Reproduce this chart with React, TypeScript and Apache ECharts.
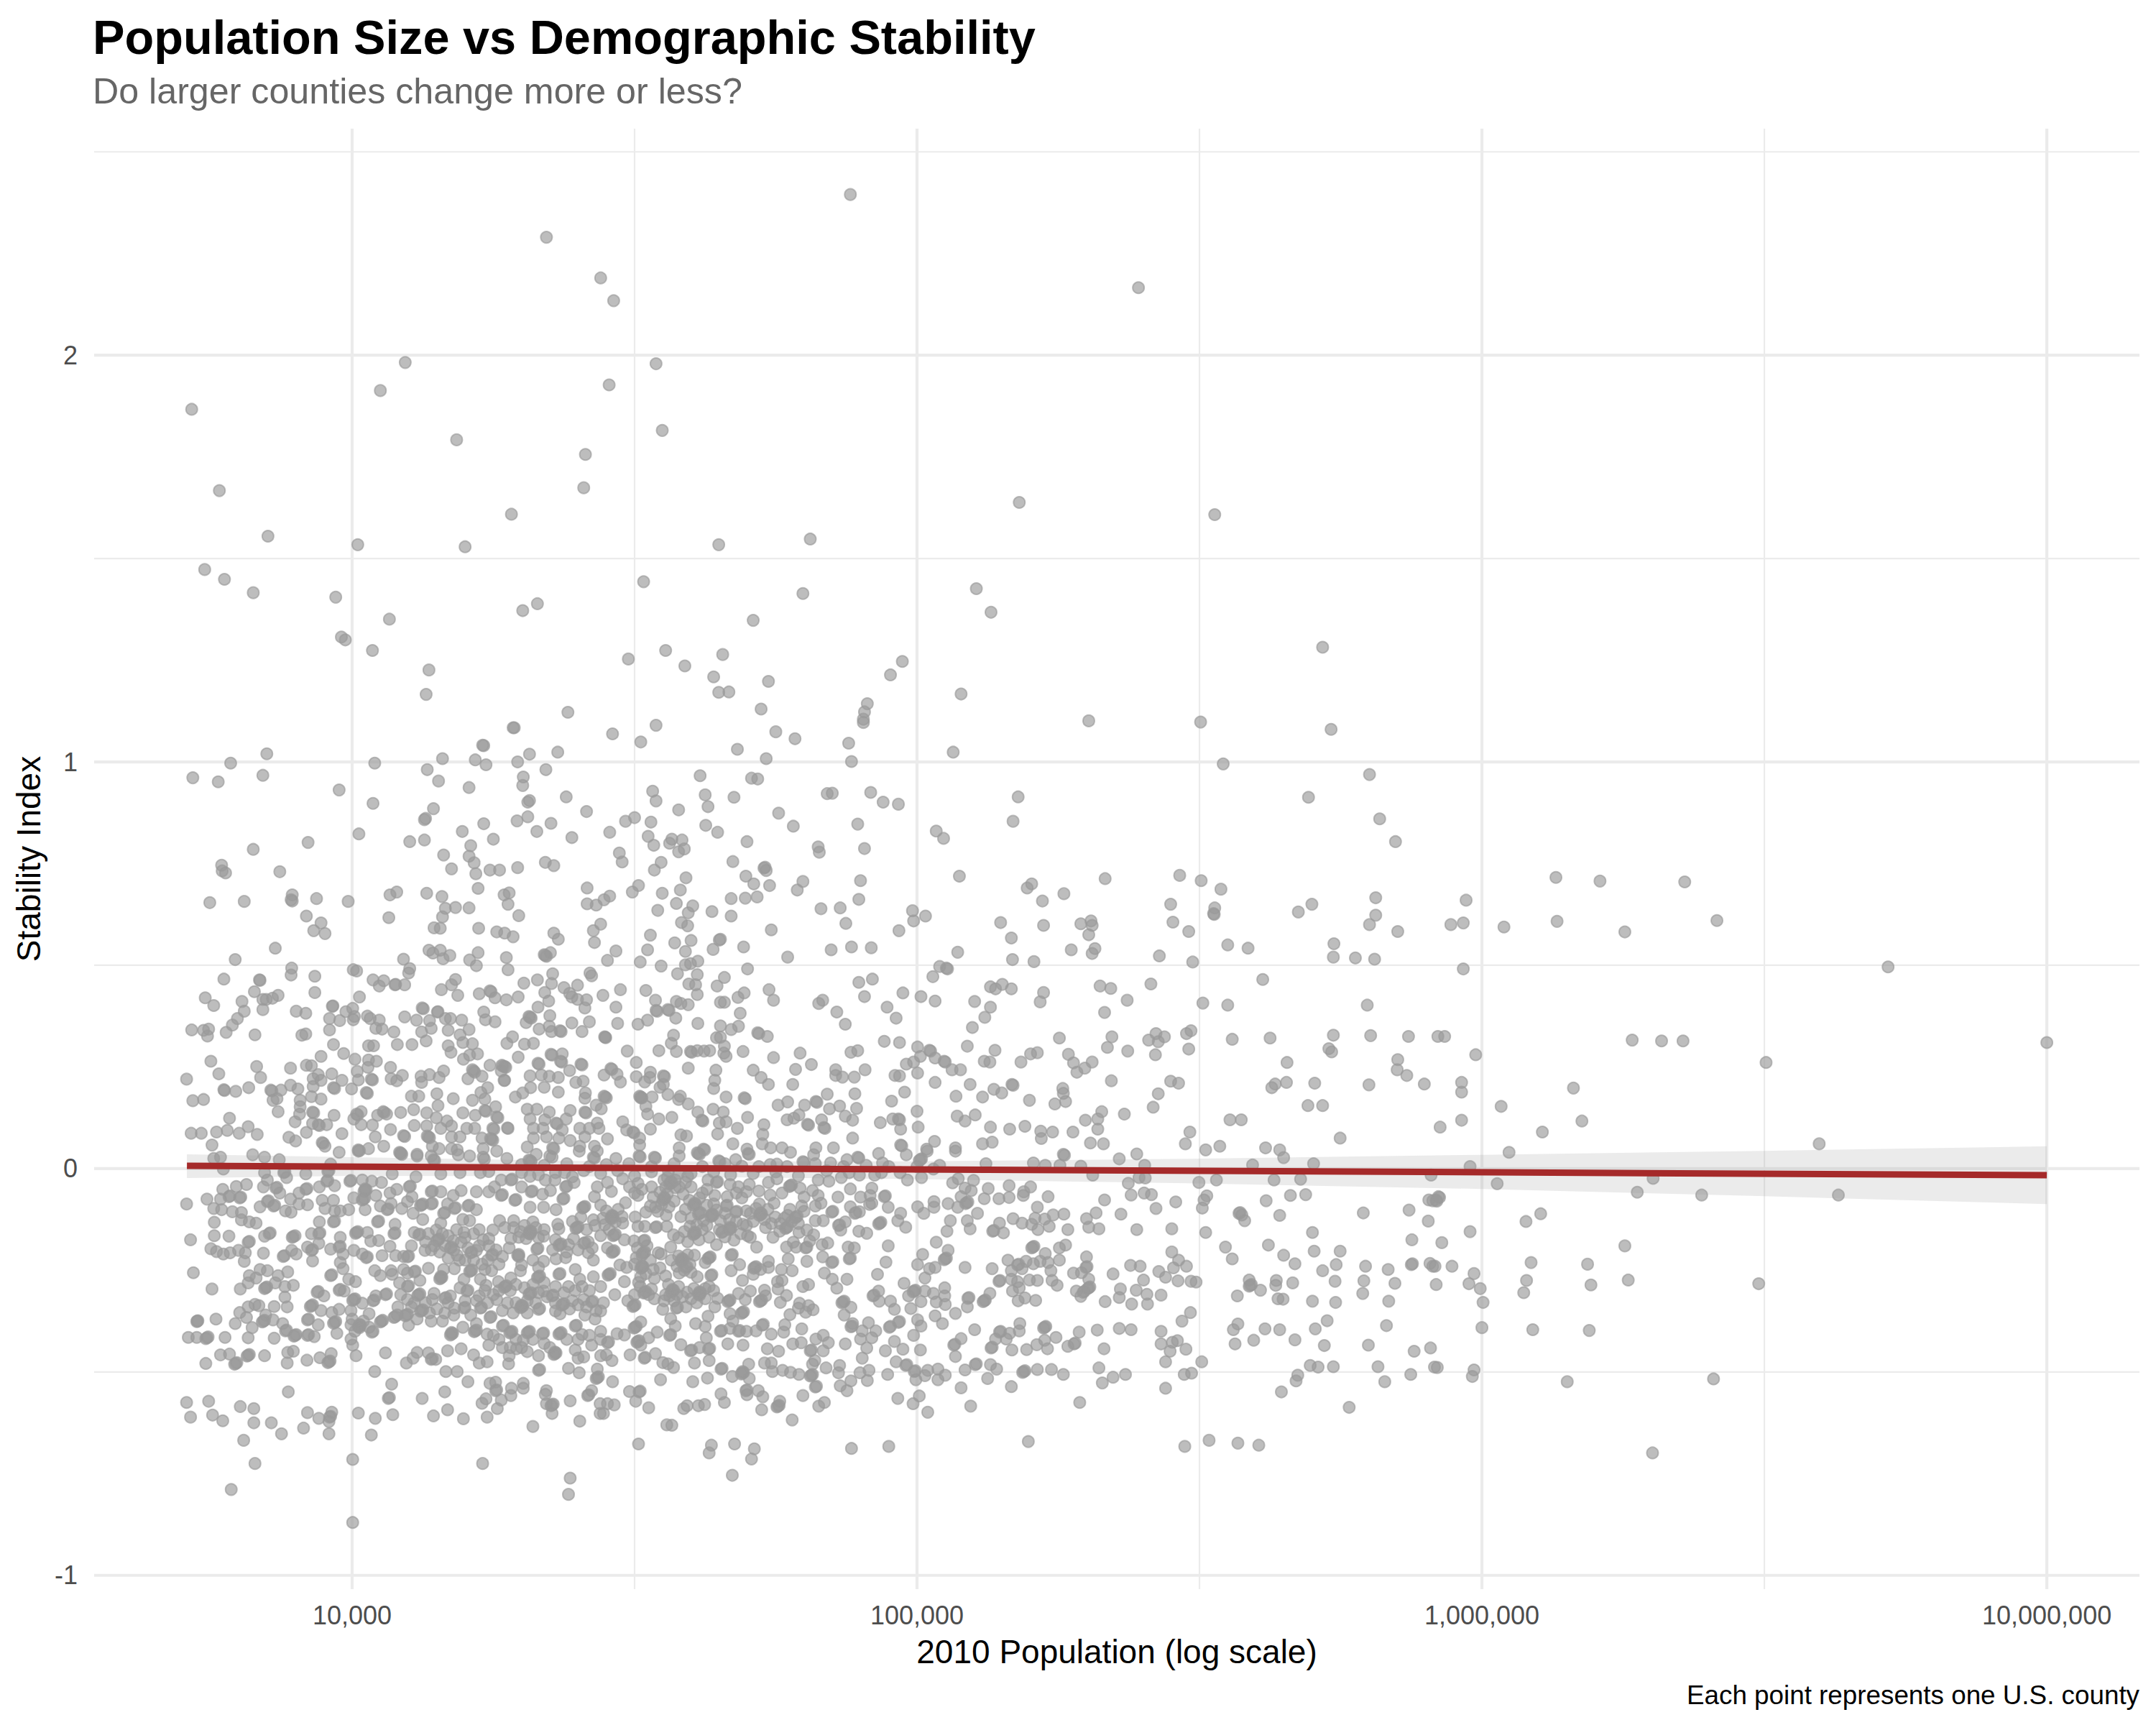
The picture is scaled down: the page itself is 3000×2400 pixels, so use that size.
import React, { useEffect, useRef } from "react";
import * as echarts from "echarts";

const TITLE = "Population Size vs Demographic Stability";
const SUBTITLE = "Do larger counties change more or less?";
const CAPTION = "Each point represents one U.S. county";
const X_NAME = "2010 Population (log scale)";
const Y_NAME = "Stability Index";

const xLabelValues = [10000, 100000, 1000000, 10000000];
const yLabelValues = [-1, 0, 1, 2];
const xMajorGrid = [10000, 100000, 1000000, 10000000];
const xMinorGrid = [31623, 316228, 3162278];
const yMajorGrid = [-1, 0, 1, 2];
const yMinorGrid = [-0.5, 0.5, 1.5, 2.5];

const trendPopulation = [5100, 10000000];
const trendIndex = [0.007, -0.016];
const ribbonPopulation = [5100, 10000, 30000, 100000, 300000, 1000000, 3000000, 10000000];
const ribbonUpper = [0.035, 0.028, 0.017, 0.018, 0.024, 0.034, 0.043, 0.055];
const ribbonLower = [-0.023, -0.018, -0.019, -0.026, -0.036, -0.05, -0.067, -0.087];

// each pair: log10(2010 population), stability index
const highOutliers: number[][] = [
[4.344,2.29],[4.44,2.19],[4.463,2.134],[4.094,1.982],[4.538,1.979],[4.05,1.913],[4.455,1.927],[3.716,1.867],[4.549,1.815],[4.185,1.792],[4.413,1.756],[3.765,1.667],[4.41,1.674],[4.282,1.609],[3.851,1.555],[4.01,1.534],[4.2,1.529],[4.649,1.534],[3.739,1.473],[3.774,1.449],
[4.882,2.395],[5.392,2.166],[5.181,1.638],[5.527,1.608],[4.811,1.548],[4.798,1.414],[4.71,1.348],[5.105,1.426],[5.131,1.368],[4.656,1.264],[4.974,1.247],[4.953,1.214],[4.737,1.198],[4.649,1.171],[5.718,1.282],[5.078,1.167],[4.912,1.143],[4.907,1.123],[4.905,1.105],[4.724,1.13],
[3.825,1.416],[3.971,1.405],[3.981,1.307],[3.988,1.3],[4.036,1.274],[4.066,1.351],[4.136,1.226],[4.131,1.166],[4.302,1.372],[4.328,1.389],[4.516,1.443],[4.489,1.253],[4.555,1.274],[4.589,1.236],[4.64,1.209],[4.667,1.172],[4.231,1.041],[4.285,1.084],[4.382,1.122],
];

const leftUpper: number[][] = [
[3.718,0.961],[3.763,0.951],[3.785,0.997],[3.849,1.02],[3.842,0.967],[3.977,0.931],[4.04,0.997],[4.037,0.898],[4.012,0.823],[3.922,0.802],[3.825,0.785],[3.769,0.746],[3.77,0.732],[3.776,0.727],[3.872,0.73],[3.748,0.654],[3.809,0.657],[3.894,0.673],[3.892,0.661],[3.894,0.658],[3.937,0.664],[3.993,0.657],[3.919,0.621],[3.945,0.604],[3.932,0.585],[3.952,0.578],[3.864,0.542],[3.793,0.514],[3.893,0.493],[3.892,0.476],[3.934,0.473],[3.773,0.466],[3.836,0.464],[3.837,0.463],[3.827,0.435],[3.934,0.433],[3.74,0.42],[3.755,0.401],[3.805,0.411],[3.842,0.416],[3.848,0.416],[3.859,0.419],[3.869,0.426],[3.809,0.387],[3.842,0.391],[3.797,0.369],[3.788,0.353],[3.777,0.335],[3.716,0.341],[3.737,0.34],[3.746,0.343],[3.744,0.326],[3.828,0.329],[3.901,0.387],[3.918,0.382],[3.911,0.328],[3.918,0.331],[3.965,0.399],[3.966,0.4],[3.96,0.369],[3.96,0.341],[3.978,0.364],[3.989,0.386],[4.001,0.394],[4.002,0.366],[4.004,0.374],[4.013,0.422],[4.002,0.489],[4.008,0.486],[4.037,0.464],[4.048,0.449],[4.056,0.462],[4.076,0.452],[4.077,0.453],[4.093,0.452],[4.091,0.515],[4.102,0.492],[4.1,0.481],
[4.067,0.673],[4.079,0.68],[4.132,0.677],[4.159,0.669],[4.165,0.64],[4.183,0.642],[4.207,0.641],[4.16,0.619],[4.145,0.592],[4.156,0.591],[4.065,0.617],[4.224,0.591],[4.223,0.689],[4.219,0.725],[4.216,0.752],[4.207,0.768],[4.21,0.794],[4.195,0.829],[4.162,0.771],[4.176,0.737],[4.102,0.804],[4.128,0.808],[4.128,0.858],[4.13,0.861],[4.144,0.885],[4.233,0.848],[4.25,0.81],[4.244,0.734],[4.261,0.734],[4.207,0.937],[4.153,0.953],[4.133,0.981],[4.16,1.008],[4.218,1.005],[4.237,0.993],[4.233,1.04],[4.256,0.582],[4.223,0.531],[4.208,0.513],[4.22,0.499],[4.136,0.537],[4.143,0.53],[4.156,0.537],[4.161,0.516],[4.173,0.524],[4.158,0.44],[4.176,0.452],[4.183,0.465],[4.187,0.426],[4.225,0.43],[4.244,0.437],[4.246,0.435],[4.253,0.42],
];

const leftMiddle: number[][] = [
[4.027,0.375],[4.032,0.369],[4.048,0.365],[4.042,0.345],[4.053,0.343],[4.074,0.336],[4.093,0.373],[4.114,0.365],[4.124,0.395],[4.126,0.393],[4.151,0.385],[4.152,0.386],[4.137,0.364],[4.14,0.345],[4.123,0.336],[4.17,0.34],[4.165,0.369],[4.174,0.369],[4.194,0.365],[4.207,0.342],[4.233,0.385],[4.236,0.366],[4.253,0.361],[4.191,0.329],[4.196,0.31],[4.213,0.307],[4.17,0.302],[4.175,0.286],[4.106,0.305],[4.08,0.305],[4.131,0.314],[4.029,0.302],[4.038,0.302],[3.967,0.305],[3.985,0.283],[4.005,0.269],[3.945,0.276],[4.029,0.267],[4.043,0.264],[4.028,0.249],[4.068,0.249],[4.009,0.239],[4.089,0.229],[4.069,0.221],[4.079,0.216],[4.122,0.227],[4.137,0.231],[4.162,0.24],[4.154,0.224],[4.123,0.212],[4.197,0.269],[4.208,0.279],[4.222,0.282],[4.244,0.254],[4.265,0.254],[4.267,0.252],[4.264,0.24],[4.269,0.217],[4.215,0.24],[4.217,0.237],[4.213,0.243],[4.205,0.221],[4.23,0.227],[4.24,0.199],[4.228,0.187],[4.235,0.171],[4.213,0.168],[4.179,0.172],[4.15,0.184],[4.152,0.155],[4.105,0.178],[4.118,0.178],[4.109,0.145],[4.086,0.138],[4.011,0.218],[4.034,0.22],[4.036,0.218],[3.964,0.233],[3.931,0.221],[3.94,0.231],[3.945,0.217],[3.982,0.217],[3.967,0.199],[3.969,0.197],[3.999,0.196],[4.025,0.187],[4.027,0.185],[3.931,0.202],[3.928,0.177],[3.945,0.171],[3.908,0.168],[3.904,0.196],[3.891,0.205],[3.874,0.193],[3.856,0.193],[3.858,0.191],[3.867,0.172],[3.86,0.168],[3.869,0.14],[3.838,0.224],[3.831,0.251],[3.817,0.199],[3.794,0.19],[3.773,0.194],[3.774,0.192],[3.764,0.233],[3.75,0.264],[3.707,0.22],[3.718,0.167],[3.737,0.17],[3.783,0.124],[3.715,0.087],[3.733,0.087],[3.76,0.09],[3.779,0.094],[3.8,0.087],[3.816,0.103],[3.832,0.084],[3.752,0.058],[3.824,0.034],[3.755,0.025],[3.767,0.028],[3.845,0.028],[3.871,0.022],[3.891,0.247],[3.919,0.254],[3.928,0.253],[3.908,0.152],[3.907,0.134],[3.899,0.115],[3.93,0.139],[3.932,0.137],[3.968,0.131],[3.93,0.111],[3.94,0.108],[3.942,0.106],[3.955,0.108],[3.919,0.089],[3.982,0.086],[3.888,0.077],[3.9,0.068],[3.947,0.064],[3.949,0.062],[3.952,0.055],[3.977,0.04],[4.008,0.134],[4.01,0.132],[4.016,0.14],[4.003,0.122],[4.016,0.108],[4.036,0.107],[4.045,0.131],[4.055,0.14],[4.057,0.138],[4.061,0.134],[4.041,0.078],[4.068,0.096],[4.056,0.055],[4.029,0.049],[4.011,0.046],[4.013,0.044],[4.091,0.081],[4.093,0.079],[4.084,0.04],[4.086,0.038],[4.115,0.035],[4.11,0.106],[4.132,0.137],[4.149,0.125],[4.132,0.105],[4.135,0.078],[4.137,0.076],[4.133,0.08],[4.157,0.099],[4.168,0.117],[4.176,0.105],[4.176,0.078],[4.191,0.078],[4.196,0.137],[4.218,0.131],[4.203,0.099],[4.217,0.099],[4.235,0.143],[4.237,0.141],[4.254,0.152],[4.256,0.127],[4.258,0.125],[4.249,0.099],[4.251,0.097],[4.275,0.1],[4.23,0.075],[4.247,0.072],[4.249,0.07],[4.245,0.074],[4.232,0.049],[4.256,0.043],[4.176,0.049],[4.186,0.046],[4.142,0.055],[4.154,0.049],[4.14,0.031],[4.208,0.031],[4.232,0.028],[4.274,0.025],
[3.962,0.011],[4.011,0.043],[4.086,0.037],[4.088,0.035],[4.115,0.031],[4.144,0.022],[4.146,0.02],[4.188,0.034],[4.234,0.023],[4.315,0.019],[4.317,0.017],[4.313,0.021],[4.354,0.028],[4.402,0.043],[4.427,0.028],[4.429,0.026],[4.326,0.035],[4.35,0.031],[4.434,0.043],
];

const centerUpper: number[][] = [
[4.287,1.084],[4.461,1.069],[4.511,1.049],[4.538,1.09],[4.75,1.074],[4.784,1.057],[4.905,1.097],[4.879,1.046],[4.682,1.031],[4.733,1.008],[4.884,1.001],[5.064,1.024],[4.314,1.019],[4.364,1.024],[4.293,1],[4.343,0.981],[4.303,0.963],[4.302,0.942],[4.379,0.914],[4.314,0.905],[4.311,0.901],[4.616,0.966],[4.707,0.96],[4.718,0.958],[4.532,0.928],[4.538,0.904],[4.625,0.919],[4.63,0.89],[4.676,0.913],[4.841,0.922],[4.85,0.923],[4.918,0.925],[4.94,0.901],[4.967,0.896],[4.755,0.874],[4.578,0.882],[4.415,0.878],[4.484,0.854],[4.5,0.863],[4.529,0.852],[4.626,0.844],[4.647,0.827],[4.781,0.842],[4.895,0.847],[4.292,0.855],[4.311,0.865],[4.352,0.849],[4.327,0.829],[4.389,0.814],[4.456,0.827],[4.524,0.817],[4.534,0.795],[4.566,0.81],[4.562,0.8],[4.584,0.808],[4.578,0.779],[4.588,0.786],[4.699,0.804],[4.825,0.791],[4.827,0.778],[4.907,0.787],[5.034,0.83],[5.047,0.812],[4.473,0.776],[4.478,0.754],[4.342,0.753],[4.357,0.745],[4.293,0.74],[4.547,0.753],[4.535,0.734],[4.674,0.755],[4.729,0.739],[4.731,0.741],[4.733,0.733],[4.697,0.719],[4.711,0.7],[4.739,0.696],[4.798,0.706],[4.788,0.685],[4.9,0.708],[5.075,0.719],[4.591,0.715],[4.581,0.685],[4.549,0.677],[4.507,0.696],[4.496,0.68],[4.416,0.69],[4.456,0.67],[4.446,0.661],[4.432,0.648],[4.416,0.651],[4.671,0.664],[4.696,0.665],[4.717,0.668],[4.897,0.662],[4.574,0.652],[4.603,0.646],[4.595,0.629],[4.541,0.635],[4.637,0.632],[4.671,0.621],[4.83,0.639],[4.864,0.641],[4.992,0.634],[5.015,0.621],[4.994,0.609],[4.874,0.603],[4.968,0.585],[5.148,0.605],[4.583,0.605],[4.594,0.597],[4.295,0.622],[4.276,0.65],[4.278,0.678],[4.269,0.673],[4.44,0.601],[4.427,0.585],[4.357,0.579],[4.365,0.564],[4.429,0.556],[4.528,0.574],[4.571,0.555],[4.6,0.561],[4.65,0.562],[4.652,0.564],[4.693,0.545],[4.742,0.587],[4.523,0.538],[4.639,0.539],[4.59,0.534],[4.467,0.535],[4.452,0.512],[4.51,0.508],[4.547,0.498],[4.771,0.52],[4.848,0.538],[4.884,0.545],[4.919,0.543],[5.072,0.532],[4.342,0.524],[4.344,0.522],[4.34,0.526],[4.351,0.531],[4.273,0.519],[4.276,0.489],[4.285,0.57],[4.27,0.579],[4.59,0.501],[4.599,0.504],[4.612,0.51],[4.7,0.491],[4.576,0.479],[4.611,0.477],[4.659,0.47],[4.646,0.449],[5.04,0.497],[5.052,0.493],[5.054,0.491],[5.028,0.472],[4.897,0.458],[4.921,0.466],[4.355,0.479],[4.421,0.481],[4.424,0.474],[4.304,0.456],[4.328,0.464],[4.353,0.455],[4.375,0.445],[4.399,0.451],[4.475,0.44],[4.341,0.433],[4.52,0.438],[4.596,0.454],[4.608,0.452],[4.385,0.431],[4.389,0.422],[4.415,0.415],[4.444,0.426],[4.294,0.422],[4.273,0.415],[4.348,0.412],[4.399,0.416],[4.611,0.428],[4.694,0.432],[4.683,0.421],[4.738,0.44],[4.746,0.414],[4.907,0.423],[4.975,0.432],[5.007,0.423],[5.032,0.412],[5.102,0.411],[5.13,0.447],[5.139,0.442],[5.151,0.453],[4.833,0.414],[4.826,0.406],[4.537,0.414],[4.574,0.411],[4.582,0.406],[4.595,0.403],[4.652,0.409],[4.659,0.409],[4.329,0.397],[4.412,0.395],[4.467,0.397],[4.947,0.397],[5.13,0.397],
[4.315,0.372],[4.317,0.37],[4.313,0.374],[4.308,0.359],[4.35,0.376],[4.538,0.389],[4.54,0.387],[4.559,0.391],[4.561,0.389],[4.573,0.37],[4.687,0.382],[4.858,0.385],[4.963,0.37],[5.12,0.372],[4.873,0.355],[4.389,0.358],[4.42,0.361],[4.47,0.357],[4.506,0.355],[4.523,0.365],[4.612,0.357],[4.652,0.351],[4.684,0.35],[4.671,0.342],[5.098,0.347],[4.331,0.343],[4.349,0.35],[4.353,0.337],[4.368,0.339],[4.37,0.337],[4.407,0.337],[4.718,0.334],[4.72,0.332],[4.735,0.325],[4.448,0.323],[4.449,0.322],[4.447,0.324],[4.569,0.328],[4.645,0.322],[4.652,0.323],[4.284,0.324],[4.274,0.308],[4.305,0.306],[4.321,0.308],[4.565,0.308],[4.942,0.313],[4.969,0.31],[5.089,0.301],[5.001,0.299],[4.659,0.301],[4.487,0.289],[4.543,0.29],[4.574,0.288],[4.599,0.288],[4.601,0.286],[4.611,0.29],[4.623,0.289],[4.633,0.29],[4.658,0.284],[4.662,0.276],[4.692,0.288],[4.793,0.284],[4.883,0.286],[4.895,0.29],[5.022,0.291],[5.024,0.289],[5.138,0.291],[5.006,0.276],[5.032,0.272],[5.048,0.264],[5.05,0.262],[5.119,0.264],[5.129,0.262],[4.981,0.257],[4.994,0.262],[4.294,0.274],[4.329,0.259],[4.331,0.257],[4.352,0.281],[4.354,0.279],[4.372,0.282],[4.369,0.264],[4.371,0.262],[4.405,0.257],[4.407,0.255],[4.503,0.261],[4.746,0.273],[4.27,0.251],[4.272,0.249],[4.813,0.256],[4.595,0.247],[4.644,0.242],[4.71,0.242],[4.785,0.244],[4.856,0.243],[4.908,0.243],[5.062,0.243],[5.077,0.243],[5.001,0.235],[4.458,0.246],[4.46,0.244],[4.856,0.229],[4.868,0.225],[4.889,0.225],[4.961,0.229],[4.969,0.228],[4.724,0.224],[4.446,0.23],[4.469,0.232],[4.503,0.226],[4.528,0.237],[4.527,0.224],[4.551,0.228],[4.553,0.226],[4.642,0.217],[4.315,0.228],[4.335,0.23],[4.349,0.227],[4.365,0.224],[4.385,0.241],[4.27,0.217],[4.475,0.213],[4.737,0.207],[4.78,0.207],[5.032,0.212],[5.094,0.207],[4.396,0.212],[4.409,0.215],[4.34,0.2],[4.316,0.199],[4.64,0.197],[4.518,0.213],[4.551,0.207],[4.545,0.2],[5.136,0.195],[4.978,0.188],[5.15,0.186],[5.116,0.176],[5.069,0.178],[4.89,0.184],[4.841,0.183],[4.365,0.188],[4.413,0.186],[4.302,0.186],[4.289,0.176],[4.448,0.176],[4.45,0.174],[4.446,0.178],[4.412,0.173],[4.511,0.176],[4.513,0.174],[4.509,0.178],[4.511,0.174],[4.531,0.176],[4.559,0.182],[4.581,0.178],[4.578,0.17],[4.595,0.159],[4.662,0.176],[4.694,0.174],[4.696,0.172],[4.771,0.164],[4.754,0.156],[4.801,0.156],[4.821,0.165],[4.823,0.163],[4.845,0.147],[4.863,0.154],[4.893,0.148],[4.955,0.166],[5,0.141],[5.071,0.129],[5.085,0.117],[5.103,0.132],[4.432,0.156],[4.441,0.147],[4.52,0.153],[4.523,0.134],[4.612,0.139],[4.639,0.146],[4.657,0.139],[4.619,0.119],[4.621,0.117],[4.65,0.112],[4.662,0.115],[4.7,0.126],[4.566,0.126],[4.543,0.122],[4.791,0.132],[4.77,0.12],[4.782,0.124],[4.831,0.12],[4.873,0.129],[4.886,0.119],[4.935,0.113],[4.957,0.122],[4.967,0.122],[4.969,0.12],[4.971,0.097],[5.002,0.102],[5.13,0.102],[4.835,0.101],[4.837,0.099],[4.806,0.109],[4.808,0.107],[4.729,0.108],[4.727,0.084],[4.682,0.099],[4.647,0.085],[4.528,0.097],[4.479,0.115],[4.486,0.095],[4.497,0.09],[4.499,0.088],[4.509,0.075],[4.582,0.083],[4.592,0.08],[4.886,0.075],[4.276,0.099],[4.31,0.146],[4.327,0.146],[4.349,0.139],[4.386,0.143],[4.412,0.139],[4.414,0.137],[4.379,0.122],[4.315,0.122],[4.341,0.12],[4.361,0.112],[4.363,0.11],[4.403,0.099],[4.434,0.112],[4.437,0.099],[4.321,0.099],[4.338,0.099],[4.372,0.095],[4.42,0.099],[4.321,0.075],[4.366,0.075],[4.344,0.078],[4.386,0.069],[4.412,0.078],[4.452,0.073],[4.403,0.055],[4.429,0.055],[4.355,0.051],[4.357,0.049],[4.31,0.053],[4.509,0.058],[4.579,0.051],[4.622,0.048],[4.624,0.046],[4.674,0.061],[4.699,0.048],[4.726,0.061],[4.741,0.051],[4.761,0.051],[4.821,0.051],[4.852,0.051],[4.971,0.058],[4.973,0.056],[5.031,0.067],[5.017,0.048],[5.068,0.051],[5.116,0.061],[5.133,0.065],
];

const rightUpper: number[][] = [
[5.304,1.101],[5.502,1.098],[5.733,1.08],[5.542,0.995],[5.801,0.969],[5.693,0.913],[5.179,0.914],[5.17,0.854],[5.819,0.86],[5.847,0.804],[5.333,0.713],[5.465,0.721],[5.503,0.708],[5.203,0.7],[5.195,0.69],[5.26,0.676],[5.538,0.687],[5.222,0.658],[5.449,0.65],[5.527,0.641],[5.525,0.627],[5.526,0.625],[5.699,0.65],[5.675,0.631],[5.812,0.666],[5.812,0.623],[5.801,0.6],[5.972,0.66],[5.945,0.6],[5.967,0.604],[6.039,0.594],[5.851,0.583],[5.29,0.602],[5.308,0.609],[5.31,0.598],[5.304,0.575],[5.224,0.598],[5.167,0.567],[5.453,0.606],[5.481,0.583],[5.273,0.538],[5.315,0.541],[5.31,0.529],[5.55,0.55],[5.586,0.542],[5.738,0.553],[5.169,0.514],[5.207,0.509],[5.429,0.523],[5.488,0.508],[5.737,0.52],[5.776,0.518],[5.81,0.515],[5.967,0.491],[5.612,0.465],[5.167,0.442],[5.224,0.433],[5.218,0.41],[5.324,0.449],[5.343,0.443],[5.414,0.454],[5.372,0.414],[5.506,0.407],[5.55,0.402],[5.797,0.402],[5.332,0.384],[5.252,0.321],[5.345,0.324],[5.337,0.298],[5.373,0.289],[5.41,0.316],[5.423,0.332],[5.427,0.312],[5.438,0.324],[5.477,0.332],[5.485,0.339],[5.481,0.294],[5.422,0.28],[5.558,0.318],[5.625,0.321],[5.737,0.328],[5.803,0.327],[5.87,0.325],[5.922,0.325],[5.934,0.325],[5.729,0.295],[5.734,0.287],[5.989,0.28],[5.655,0.261],[5.851,0.268],[5.85,0.243],[5.867,0.229],[5.898,0.208],[5.964,0.212],[5.964,0.188],[5.8,0.206],[5.704,0.21],[5.654,0.212],[5.634,0.208],[5.628,0.199],[5.692,0.155],[5.718,0.155],[6.034,0.153],[5.964,0.119],[5.926,0.102],[5.749,0.075],[5.554,0.12],[5.574,0.12],[5.483,0.09],[5.475,0.061],[5.536,0.055],[5.511,0.046],[5.617,0.051],[5.642,0.046],[5.418,0.151],[5.427,0.184],[5.449,0.215],[5.463,0.21],[5.367,0.134],[5.327,0.14],[5.32,0.122],[5.298,0.119],[5.32,0.097],[5.276,0.09],[5.24,0.09],[5.219,0.092],[5.22,0.074],[5.191,0.104],[5.164,0.097],[5.307,0.063],[5.33,0.061],[5.199,0.168],[5.244,0.159],[5.263,0.165],[5.258,0.197],[5.259,0.185],[5.344,0.216],[5.168,0.207],[5.17,0.205],[5.268,0.281],[5.277,0.26],[5.297,0.247],[5.31,0.262],[5.283,0.237],[5.201,0.282],[5.213,0.285],[5.184,0.262],
[6.131,0.716],[6.209,0.707],[6.359,0.705],[6.133,0.608],[6.253,0.582],[6.416,0.61],[6.719,0.496],[6.266,0.316],[6.318,0.314],[6.356,0.314],[6.503,0.261],[6.162,0.198],[6.177,0.117],[6.107,0.09],[6.048,0.04],[6.597,0.061],[7,0.31],
];

const rightLower: number[][] = [
[5.979,0.005],[6.303,-0.024],[6.027,-0.037],[6.275,-0.058],[6.389,-0.065],[6.631,-0.065],[5.925,-0.071],[5.92,-0.08],[6.078,-0.13],[6.104,-0.111],[5.979,-0.155],[6.253,-0.19],[5.929,-0.182],[5.947,-0.24],[5.917,-0.24],[6.087,-0.231],[6.187,-0.235],[5.986,-0.258],[5.977,-0.283],[5.997,-0.295],[6.079,-0.275],[6.074,-0.305],[6.002,-0.329],[6.193,-0.286],[6.259,-0.274],[6.49,-0.283],[6,-0.391],[6.09,-0.396],[6.19,-0.398],[5.921,-0.489],[5.986,-0.495],[5.983,-0.511],[6.151,-0.524],[6.41,-0.517],[6.302,-0.699],
[5.259,0.035],[5.261,0.033],[5.358,0.024],[5.389,0.036],[5.649,0.027],[5.206,0.014],[5.227,0.008],[5.253,0.008],[5.29,0.006],[5.403,0.008],[5.594,0.009],[5.702,0.012],[5.311,-0.016],[5.91,-0.016],[5.393,-0.022],[5.404,-0.023],[5.374,-0.036],[5.499,-0.034],[5.53,-0.028],[5.632,-0.028],[5.679,-0.026],[5.163,-0.042],[5.201,-0.045],[5.189,-0.057],[5.188,-0.066],[5.163,-0.071],[5.232,-0.069],[5.379,-0.065],[5.402,-0.06],[5.415,-0.064],[5.513,-0.067],[5.332,-0.077],[5.458,-0.082],[5.508,-0.077],[5.505,-0.097],[5.661,-0.066],[5.688,-0.064],[5.618,-0.079],[5.923,-0.069],[5.906,-0.077],[5.913,-0.079],[5.919,-0.077],[5.213,-0.095],[5.423,-0.098],[5.79,-0.109],[5.871,-0.102],[5.57,-0.11],[5.572,-0.108],[5.575,-0.114],[5.58,-0.128],[5.642,-0.115],[5.26,-0.112],[5.241,-0.114],[5.209,-0.122],[5.226,-0.124],[5.17,-0.123],[5.186,-0.134],[5.203,-0.137],[5.234,-0.142],[5.214,-0.15],[5.267,-0.15],[5.3,-0.123],[5.317,-0.109],[5.361,-0.112],[5.304,-0.144],[5.322,-0.148],[5.389,-0.15],[5.451,-0.148],[5.511,-0.157],[5.905,-0.129],[5.7,-0.157],[5.876,-0.175],[5.546,-0.193],[5.622,-0.188],[5.558,-0.222],[5.649,-0.213],[5.703,-0.203],[5.749,-0.203],[5.669,-0.234],[5.742,-0.236],[5.794,-0.24],[5.834,-0.248],[5.718,-0.251],[5.875,-0.236],[5.877,-0.234],[5.908,-0.233],[5.913,-0.24],[5.74,-0.277],[5.791,-0.276],[5.846,-0.282],[5.919,-0.285],[5.665,-0.281],[5.588,-0.274],[5.59,-0.287],[5.592,-0.285],[5.588,-0.289],[5.608,-0.299],[5.636,-0.275],[5.635,-0.287],[5.567,-0.313],[5.639,-0.32],[5.648,-0.321],[5.7,-0.326],[5.741,-0.329],[5.789,-0.307],[5.835,-0.326],
[5.263,-0.188],[5.252,-0.195],[5.205,-0.193],[5.207,-0.191],[5.203,-0.195],[5.227,-0.209],[5.3,-0.217],[5.252,-0.225],[5.218,-0.228],[5.232,-0.231],[5.193,-0.228],[5.178,-0.237],[5.18,-0.235],[5.161,-0.225],[5.167,-0.251],[5.186,-0.246],[5.206,-0.234],[5.237,-0.251],[5.299,-0.243],[5.301,-0.241],[5.277,-0.257],[5.291,-0.256],[5.347,-0.259],[5.378,-0.238],[5.395,-0.24],[5.428,-0.253],[5.451,-0.205],[5.463,-0.225],[5.454,-0.244],[5.477,-0.24],[5.44,-0.267],[5.401,-0.274],[5.462,-0.276],[5.485,-0.277],[5.494,-0.279],[5.167,-0.272],[5.178,-0.278],[5.199,-0.274],[5.213,-0.275],[5.239,-0.275],[5.248,-0.287],[5.304,-0.272],[5.36,-0.296],[5.388,-0.299],[5.407,-0.309],[5.432,-0.311],[5.169,-0.301],[5.181,-0.293],[5.304,-0.293],[5.306,-0.291],[5.302,-0.295],[5.294,-0.304],[5.296,-0.302],[5.282,-0.301],[5.29,-0.314],[5.358,-0.317],[5.333,-0.327],[5.38,-0.333],[5.408,-0.333],[5.191,-0.318],[5.179,-0.325],[5.21,-0.324],[5.484,-0.354],[5.469,-0.375],[5.182,-0.381],[5.181,-0.399],[5.226,-0.39],[5.228,-0.388],[5.224,-0.392],[5.164,-0.405],[5.158,-0.419],[5.246,-0.415],[5.287,-0.402],[5.319,-0.397],[5.358,-0.393],[5.379,-0.396],[5.432,-0.4],[5.568,-0.382],[5.56,-0.396],[5.616,-0.394],[5.642,-0.396],[5.705,-0.394],[5.726,-0.374],[5.831,-0.386],[5.596,-0.422],[5.669,-0.421],[5.563,-0.431],[5.721,-0.435],[5.799,-0.434],[5.909,-0.441],[5.88,-0.449],[5.226,-0.422],[5.212,-0.433],[5.231,-0.443],[5.168,-0.446],[5.194,-0.445],[5.267,-0.437],[5.278,-0.431],[5.28,-0.429],[5.331,-0.443],[5.432,-0.431],[5.452,-0.427],[5.461,-0.423],[5.448,-0.449],[5.476,-0.444],[5.44,-0.475],[5.504,-0.475],[5.696,-0.484],[5.71,-0.488],[5.737,-0.487],[5.816,-0.487],[5.916,-0.488],[5.189,-0.499],[5.191,-0.497],[5.187,-0.501],[5.213,-0.494],[5.238,-0.494],[5.259,-0.506],[5.322,-0.49],[5.347,-0.513],[5.369,-0.506],[5.328,-0.527],[5.473,-0.506],[5.486,-0.503],[5.674,-0.508],[5.671,-0.522],[5.874,-0.506],[5.828,-0.524],[5.167,-0.536],[5.44,-0.54],[5.645,-0.549],[5.288,-0.575],[5.765,-0.587],[5.197,-0.671],[5.474,-0.683],[5.517,-0.668],[5.568,-0.675],[5.605,-0.68],
];

const centerLower: number[][] = [
[4.673,-0.754],[4.507,-0.677],[4.636,-0.68],[4.632,-0.699],[4.677,-0.677],[4.712,-0.689],[4.707,-0.714],[4.884,-0.688],[4.95,-0.683],[4.557,-0.63],[4.566,-0.631],[4.779,-0.618],[5.019,-0.599],[5.095,-0.584],[4.966,-0.565],[4.993,-0.578],[5.004,-0.559],[4.826,-0.584],[4.836,-0.575],[4.798,-0.558],[4.725,-0.593],[4.754,-0.584],[4.756,-0.582],[4.752,-0.586],[4.757,-0.572],[4.525,-0.588],[4.502,-0.572],[4.491,-0.548],[4.508,-0.549],[4.51,-0.547],[4.464,-0.581],[4.452,-0.578],[4.445,-0.602],[4.587,-0.59],[4.593,-0.583],[4.613,-0.583],[4.624,-0.58],[4.659,-0.575],[4.653,-0.554],[4.697,-0.546],[4.699,-0.544],[4.699,-0.556],[4.719,-0.546],[4.727,-0.561],[4.461,-0.524],[4.546,-0.519],[4.603,-0.524],[4.629,-0.515],[4.653,-0.493],[4.655,-0.491],[4.673,-0.511],[4.691,-0.503],[4.693,-0.501],[4.689,-0.505],[4.691,-0.499],[4.703,-0.516],[4.702,-0.481],[4.742,-0.478],[4.744,-0.499],[4.762,-0.496],[4.776,-0.501],[4.791,-0.506],[4.813,-0.508],[4.815,-0.506],[4.811,-0.51],[4.82,-0.537],[4.822,-0.535],[4.815,-0.481],[4.839,-0.49],[4.863,-0.484],[4.861,-0.502],[4.864,-0.534],[4.876,-0.546],[4.883,-0.522],[4.899,-0.502],[4.915,-0.496],[4.912,-0.521],[4.948,-0.506],[4.963,-0.475],[4.98,-0.484],[4.982,-0.482],[4.995,-0.499],[4.997,-0.497],[4.998,-0.519],[5.014,-0.509],[5.019,-0.496],[5.037,-0.493],[5.037,-0.519],[5.05,-0.508],[5.085,-0.495],[5.103,-0.482],[5.105,-0.48],[5.078,-0.539],[5.125,-0.516],[5.13,-0.482],[5.141,-0.493],[5.006,-0.446],[4.975,-0.444],[4.944,-0.448],[4.96,-0.425],[4.903,-0.466],[4.911,-0.441],[4.9,-0.419],[4.92,-0.416],[4.927,-0.399],[4.914,-0.379],[4.903,-0.399],[4.951,-0.39],[4.953,-0.388],[4.967,-0.378],[4.969,-0.376],[4.994,-0.41],[5.001,-0.372],[5.007,-0.387],[4.873,-0.431],[4.883,-0.389],[4.885,-0.387],[4.886,-0.381],[4.843,-0.428],[4.834,-0.41],[4.821,-0.419],[4.834,-0.448],[4.811,-0.448],[4.813,-0.446],[4.819,-0.472],[4.795,-0.428],[4.78,-0.431],[4.796,-0.394],[4.755,-0.449],[4.735,-0.443],[4.73,-0.478],[4.742,-0.407],[4.764,-0.402],[4.766,-0.384],[4.726,-0.385],[4.728,-0.383],[4.715,-0.399],[4.698,-0.4],[4.684,-0.4],[4.686,-0.398],[4.692,-0.434],[4.665,-0.431],[4.669,-0.393],[4.652,-0.4],[4.654,-0.398],[4.674,-0.375],[4.625,-0.388],[4.608,-0.381],[4.627,-0.416],[4.615,-0.44],[4.631,-0.444],[4.633,-0.442],[4.632,-0.472],[4.606,-0.478],[4.599,-0.448],[4.601,-0.446],[4.582,-0.433],[4.569,-0.489],[4.559,-0.48],[4.55,-0.477],[4.537,-0.455],[4.517,-0.466],[4.519,-0.464],[4.492,-0.458],[4.46,-0.472],[4.45,-0.458],[4.452,-0.428],[4.454,-0.426],[4.469,-0.406],[4.482,-0.409],[4.501,-0.39],[4.503,-0.388],[4.499,-0.392],[4.511,-0.377],[4.506,-0.425],[4.508,-0.423],[4.504,-0.427],[4.525,-0.416],[4.54,-0.402],[4.562,-0.41],[4.564,-0.408],[4.572,-0.387],[4.564,-0.369],[4.511,-0.434],
[5.085,-0.243],[5.133,-0.246],[5.145,-0.277],[5.147,-0.275],[5.146,-0.134],[5.134,-0.154],[5.136,-0.152],[5.153,-0.158],[5.145,-0.074],[5.126,-0.049],[5.119,-0.074],[5.1,-0.029],[5.073,-0.025],[5.063,-0.035],[5.085,-0.048],[5.096,-0.054],[5.078,-0.069],[5.088,-0.084],[5.09,-0.082],[5.086,-0.086],[5.107,-0.11],[5.089,-0.128],[5.072,-0.095],[5.055,-0.086],[5.059,-0.128],[5.053,-0.154],[5.094,-0.148],[5.034,-0.181],[5.055,-0.201],[5.05,-0.222],[5.052,-0.22],[5.048,-0.224],[5.01,-0.211],[5.001,-0.236],[5.022,-0.246],[5.032,-0.243],[5.014,-0.269],[5.049,-0.293],[5.049,-0.313],[5.05,-0.334],[5.029,-0.307],[5.034,-0.328],[5.014,-0.301],[4.995,-0.301],[4.997,-0.299],[4.993,-0.303],[4.977,-0.282],[4.985,-0.313],[5.007,-0.327],[4.989,-0.344],[5.068,-0.356],[5.032,-0.362],[5.045,-0.381],[5.09,-0.319],[5.092,-0.317],[5.089,-0.34],[5.119,-0.325],[5.121,-0.323],[5.117,-0.327],[5.129,-0.307],[5.102,-0.396],[5.078,-0.418],[5.065,-0.434],[5.067,-0.432],[5.068,-0.462],[5.146,-0.402],[5.148,-0.4],[5.139,-0.419],[5.131,-0.441],[5.133,-0.439],[5.001,-0.094],[5.012,-0.11],[5.03,-0.081],[5.03,-0.095],[4.983,-0.028],[5.008,-0.022],[5.029,-0.001],[5.006,0.022],[5.008,0.024],[5.004,0.02],[4.981,0.034],[5.018,0.043],[5.122,0.012],[5.068,0.043],
[4.949,-0.19],[4.945,-0.23],[4.93,-0.26],[4.932,-0.301],[4.922,-0.313],[4.924,-0.311],[4.933,-0.326],[4.953,-0.326],[4.96,-0.346],[4.971,-0.11],[4.966,-0.128],[4.98,-0.144],[4.934,-0.134],[4.936,-0.132],[4.932,-0.136],[4.92,-0.048],[4.917,-0.066],[4.916,-0.088],[4.942,-0.069],[4.944,-0.067],[4.949,-0.095],[4.882,-0.05],[4.882,-0.094],[4.89,-0.11],[4.892,-0.108],[4.898,-0.106],[4.873,-0.131],[4.861,-0.14],[4.863,-0.138],[4.865,-0.151],[4.897,-0.154],[4.911,-0.159],[4.878,-0.193],[4.889,-0.195],[4.88,-0.222],[4.882,-0.22],[4.876,-0.272],[4.858,-0.294],[4.85,-0.272],[4.836,-0.257],[4.849,-0.231],[4.851,-0.229],[4.833,-0.217],[4.805,-0.228],[4.798,-0.29],[4.808,-0.285],[4.772,-0.222],[4.76,-0.248],[4.779,-0.251],[4.761,-0.275],[4.753,-0.278],[4.754,-0.296],[4.769,-0.312],[4.758,-0.329],[4.792,-0.331],[4.808,-0.337],[4.816,-0.347],[4.803,-0.353],[4.79,-0.343],[4.775,-0.359],[4.869,-0.328],[4.871,-0.326],[4.867,-0.33],[4.883,-0.341],[4.871,-0.36],[4.747,-0.085],[4.721,-0.087],[4.723,-0.113],[4.725,-0.111],[4.721,-0.115],[4.723,-0.109],[4.749,-0.119],[4.771,-0.115],[4.786,-0.119],[4.788,-0.117],[4.784,-0.121],[4.796,-0.092],[4.769,-0.145],[4.771,-0.143],[4.767,-0.147],[4.805,-0.151],[4.791,-0.157],[4.817,-0.163],[4.781,-0.181],[4.769,-0.193],[4.786,-0.193],[4.803,-0.195],[4.805,-0.193],[4.832,-0.187],[4.842,-0.183],[4.81,-0.178],[4.745,-0.169],[4.705,-0.169],[4.716,-0.193],[4.698,-0.14],[4.732,-0.145],[4.757,-0.154],[4.82,-0.128],[4.834,-0.128],[4.849,-0.107],[4.851,-0.105],[4.815,-0.054],[4.825,-0.066],[4.82,-0.092],[4.761,-0.06],[4.776,-0.042],[4.778,-0.04],[4.774,-0.044],[4.793,-0.048],[4.737,-0.034],[4.752,-0.025],[4.825,-0.028],[4.844,-0.031],[4.866,-0.022],[4.898,-0.016],[4.925,-0.016],[4.937,-0.01],[4.703,-0.039],[4.684,-0.045],[4.698,-0.057],[4.69,-0.072],[4.698,-0.104],[4.679,-0.107],[4.681,-0.105],[4.664,-0.069],[4.642,-0.066],[4.628,-0.051],[4.645,-0.034],[4.647,-0.032],[4.669,-0.039],[4.63,-0.028],[4.662,-0.092],[4.664,-0.09],[4.637,-0.116],[4.639,-0.114],[4.635,-0.118],[4.637,-0.112],[4.606,-0.089],[4.608,-0.087],[4.604,-0.091],[4.606,-0.085],[4.615,-0.11],[4.617,-0.108],[4.613,-0.112],[4.669,-0.148],[4.671,-0.146],[4.667,-0.15],[4.669,-0.144],[4.654,-0.157],[4.656,-0.155],[4.606,-0.16],[4.608,-0.158],[4.604,-0.162],[4.606,-0.156],[4.632,-0.169],[4.645,-0.187],[4.564,-0.193],[4.542,-0.207],[4.547,-0.21],[4.516,-0.207],[4.518,-0.205],[4.514,-0.209],[4.516,-0.178],[4.518,-0.176],[4.499,-0.178],[4.482,-0.175],[4.464,-0.163],[4.466,-0.161],[4.462,-0.165],[4.479,-0.134],[4.46,-0.119],[4.462,-0.117],[4.458,-0.121],[4.46,-0.115],[4.46,-0.123],[4.484,-0.084],[4.501,-0.119],[4.52,-0.107],[4.537,-0.145],[4.539,-0.143],[4.557,-0.142],[4.569,-0.163],[4.518,-0.142],[4.506,-0.142],[4.552,-0.075],[4.554,-0.073],[4.55,-0.077],[4.552,-0.071],[4.537,-0.095],[4.564,-0.036],[4.566,-0.034],[4.562,-0.038],[4.564,-0.032],[4.579,-0.045],[4.586,-0.063],[4.594,-0.019],[4.552,-0.028],[4.506,-0.036],[4.513,-0.051],[4.506,-0.066],[4.491,-0.045],[4.459,-0.056],[4.452,-0.034],[4.479,-0.025],
[4.584,-0.225],[4.586,-0.223],[4.582,-0.227],[4.584,-0.221],[4.584,-0.229],[4.606,-0.213],[4.632,-0.219],[4.634,-0.217],[4.63,-0.221],[4.625,-0.231],[4.591,-0.243],[4.593,-0.241],[4.579,-0.257],[4.611,-0.266],[4.635,-0.263],[4.637,-0.261],[4.555,-0.264],[4.533,-0.248],[4.545,-0.244],[4.513,-0.243],[4.515,-0.241],[4.511,-0.245],[4.513,-0.239],[4.511,-0.266],[4.503,-0.219],[4.513,-0.213],[4.474,-0.237],[4.486,-0.243],[4.462,-0.204],[4.464,-0.202],[4.46,-0.206],[4.452,-0.195],[4.455,-0.26],[4.457,-0.258],[4.453,-0.262],[4.482,-0.278],[4.465,-0.31],[4.488,-0.325],[4.499,-0.337],[4.501,-0.335],[4.497,-0.339],[4.518,-0.304],[4.52,-0.302],[4.516,-0.306],[4.53,-0.296],[4.55,-0.346],[4.552,-0.325],[4.567,-0.301],[4.569,-0.299],[4.565,-0.303],[4.567,-0.297],[4.562,-0.313],[4.574,-0.343],[4.576,-0.341],[4.591,-0.34],[4.593,-0.304],[4.615,-0.307],[4.617,-0.305],[4.613,-0.309],[4.615,-0.303],[4.615,-0.311],[4.632,-0.29],[4.647,-0.319],[4.642,-0.34],[4.63,-0.363],[4.667,-0.325],[4.669,-0.323],[4.665,-0.327],[4.669,-0.357],[4.684,-0.307],[4.696,-0.322],[4.691,-0.354],[4.693,-0.352],[4.689,-0.356],[4.705,-0.301],[4.73,-0.299],[4.723,-0.325],[4.725,-0.323],[4.721,-0.327],[4.732,-0.313],[4.671,-0.213],[4.673,-0.211],[4.686,-0.236],[4.671,-0.251],[4.691,-0.275],[4.71,-0.26],[4.713,-0.243],[4.715,-0.241],[4.711,-0.245],[4.737,-0.228],[4.737,-0.243],[4.723,-0.248],
[4.508,0.031],[4.51,0.029],[4.535,0.028],[4.537,0.026],[4.579,0.031],[4.613,0.037],[4.615,0.035],[4.611,0.039],[4.649,0.019],[4.651,0.017],[4.679,0.022],[4.701,0.037],[4.703,0.035],[4.72,0.005],[4.752,0.011],[4.776,0.04],[4.798,0.017],[4.8,0.015],[4.817,0.034],[4.847,0.014],[4.876,0.022],[4.895,0.028],[4.897,0.026],[4.932,0.037],[4.939,0.014],[4.467,0.025],
];

const leftLower: number[][] = [
[3.707,-0.087],[3.743,-0.075],[3.714,-0.175],[3.719,-0.256],[3.752,-0.296],[3.756,-0.132],[3.756,-0.165],[3.782,-0.166],[3.75,-0.197],[3.76,-0.204],[3.772,-0.21],[3.784,-0.207],[3.799,-0.201],[3.811,-0.207],[3.809,-0.228],[3.816,-0.181],[3.818,-0.179],[3.843,-0.208],[3.845,-0.166],[3.853,-0.16],[3.855,-0.158],[3.878,-0.216],[3.88,-0.214],[3.894,-0.169],[3.896,-0.167],[3.899,-0.165],[3.893,-0.201],[3.901,-0.21],[3.928,-0.16],[3.941,-0.16],[3.943,-0.158],[3.941,-0.184],[3.921,-0.193],[3.928,-0.201],[3.93,-0.199],[3.93,-0.227],[3.962,-0.198],[3.977,-0.193],[3.979,-0.191],[3.979,-0.169],[3.984,-0.21],[4.003,-0.201],[3.979,-0.231],[4.008,-0.157],[4.01,-0.155],[4.006,-0.159],[4.027,-0.157],[4.033,-0.178],[4.047,-0.177],[4.067,-0.191],[4.074,-0.16],[4.076,-0.158],[4.076,-0.137],[4.045,-0.131],[4.047,-0.129],[4.018,-0.21],[4.025,-0.219],[4.027,-0.217],[4.053,-0.214],[4.077,-0.214],[4.091,-0.216],[4.098,-0.217],[4.1,-0.215],[4.04,-0.251],[4.05,-0.263],[4.129,-0.201],[4.11,-0.157],[4.118,-0.163],[4.12,-0.161],[4.135,-0.16],[4.152,-0.175],[4.154,-0.173],[4.15,-0.177],[4.149,-0.151],[4.179,-0.178],[4.193,-0.181],[4.198,-0.157],[4.174,-0.195],[4.176,-0.193],[4.186,-0.213],[4.21,-0.207],[4.212,-0.205],[4.22,-0.201],[4.232,-0.175],[4.242,-0.172],[4.242,-0.19],[4.249,-0.151],[4.261,-0.128],[4.286,-0.128],[4.286,-0.145],[4.27,-0.145],[4.247,-0.213],[4.249,-0.211],[4.266,-0.216],[4.281,-0.172],[4.295,-0.169],[4.278,-0.195],[4.293,-0.213],[4.295,-0.211],[4.315,-0.157],[4.317,-0.155],[4.313,-0.159],[4.315,-0.153],[4.315,-0.161],[4.327,-0.198],[4.329,-0.196],[4.339,-0.166],[4.32,-0.131],[4.364,-0.137],[4.366,-0.148],[4.398,-0.145],[4.4,-0.143],[4.396,-0.147],[4.368,-0.187],[4.37,-0.185],[4.366,-0.189],[4.383,-0.187],[4.41,-0.184],[4.412,-0.182],[4.361,-0.222],[4.378,-0.219],[4.418,-0.207],[4.427,-0.225],[4.32,-0.225],[4.339,-0.228],[4.295,-0.216],[4.3,-0.237],[4.298,-0.251],[4.33,-0.243],[4.33,-0.266],[4.332,-0.264],[4.328,-0.268],[4.366,-0.26],[4.368,-0.258],[4.395,-0.248],[4.403,-0.272],[4.407,-0.29],[4.427,-0.266],[4.281,-0.269],[4.271,-0.29],[4.273,-0.288],[4.269,-0.292],[4.247,-0.251],[4.21,-0.251],[4.212,-0.249],[4.208,-0.253],[4.198,-0.272],[4.227,-0.272],[4.235,-0.248],[4.237,-0.287],[4.259,-0.278],[4.203,-0.301],[4.205,-0.299],[4.191,-0.293],[4.225,-0.313],[4.256,-0.322],[4.305,-0.293],[4.315,-0.307],[4.317,-0.305],[4.313,-0.309],[4.339,-0.301],[4.354,-0.313],[4.356,-0.311],[4.383,-0.29],[4.373,-0.334],[4.375,-0.332],[4.371,-0.336],[4.39,-0.325],[4.41,-0.322],[4.424,-0.328],[4.426,-0.326],[4.3,-0.34],[4.302,-0.338],[4.298,-0.342],[4.3,-0.336],[4.33,-0.346],[4.332,-0.344],[4.368,-0.357],[4.412,-0.36],[4.432,-0.349],[4.266,-0.349],[4.244,-0.366],[4.246,-0.364],[4.227,-0.343],[4.229,-0.341],[4.198,-0.343],[4.2,-0.341],[4.181,-0.343],[4.164,-0.319],[4.166,-0.317],[4.145,-0.307],[4.174,-0.313],[4.157,-0.269],[4.159,-0.267],[4.155,-0.271],[4.157,-0.265],[4.181,-0.246],[4.162,-0.248],[4.135,-0.245],[4.12,-0.275],[4.11,-0.254],[4.112,-0.252],[4.091,-0.248],[4.098,-0.257],[4.069,-0.251],[4.071,-0.26],[4.084,-0.281],[4.098,-0.29],[4.1,-0.288],[4.086,-0.31],[4.118,-0.31],[4.12,-0.308],[4.116,-0.312],[4.098,-0.322],[4.059,-0.31],[4.061,-0.308],[4.042,-0.313],[4.037,-0.325],[4.039,-0.323],[4.081,-0.34],[4.096,-0.36],[4.098,-0.358],[4.094,-0.362],[4.123,-0.349],[4.125,-0.347],[4.121,-0.351],[4.137,-0.355],[4.142,-0.322],[4.164,-0.355],
[4.176,-0.407],[4.178,-0.405],[4.174,-0.409],[4.176,-0.403],[4.196,-0.39],[4.218,-0.399],[4.22,-0.397],[4.216,-0.401],[4.239,-0.407],[4.22,-0.381],[4.242,-0.434],[4.193,-0.443],[4.169,-0.448],[4.215,-0.458],[4.225,-0.478],[4.239,-0.475],[4.266,-0.44],[4.291,-0.443],[4.278,-0.46],[4.277,-0.48],[4.266,-0.387],[4.268,-0.385],[4.281,-0.402],[4.283,-0.4],[4.279,-0.404],[4.303,-0.422],[4.312,-0.402],[4.314,-0.4],[4.31,-0.404],[4.337,-0.406],[4.339,-0.404],[4.368,-0.405],[4.37,-0.403],[4.366,-0.407],[4.359,-0.455],[4.361,-0.453],[4.357,-0.457],[4.359,-0.451],[4.395,-0.387],[4.397,-0.385],[4.407,-0.408],[4.424,-0.434],[4.395,-0.446],[4.41,-0.463],[4.4,-0.466],[4.383,-0.491],[4.402,-0.502],[4.434,-0.493],[4.33,-0.496],[4.332,-0.494],[4.434,-0.514],[4.436,-0.512],[4.432,-0.516],[4.424,-0.546],[4.417,-0.558],[4.419,-0.556],[4.386,-0.571],[4.403,-0.621],[4.439,-0.578],[4.439,-0.602],[4.354,-0.581],[4.356,-0.579],[4.352,-0.583],[4.354,-0.602],[4.344,-0.546],[4.342,-0.555],[4.344,-0.578],[4.32,-0.634],[4.303,-0.528],[4.303,-0.54],[4.282,-0.54],[4.281,-0.558],[4.254,-0.525],[4.244,-0.528],[4.254,-0.546],[4.256,-0.544],[4.264,-0.569],[4.257,-0.59],[4.237,-0.566],[4.23,-0.577],[4.239,-0.611],[4.197,-0.615],[4.169,-0.593],[4.144,-0.608],[4.124,-0.565],[4.164,-0.549],[4.205,-0.524],[4.166,-0.499],[4.186,-0.499],[4.096,-0.478],[4.108,-0.466],[4.115,-0.452],[4.135,-0.453],[4.14,-0.469],[4.142,-0.467],[4.148,-0.469],[4.059,-0.453],[4.04,-0.499],[4.07,-0.53],[4.064,-0.565],[4.066,-0.563],[4.072,-0.605],[4.041,-0.614],[4.034,-0.655],[4.011,-0.601],[4.001,-0.715],[4.231,-0.725],[4.386,-0.761],[4.383,-0.801],[3.828,-0.725],[3.786,-0.789],[3.808,-0.668],[3.959,-0.652],[3.875,-0.652],[3.914,-0.638],[3.857,-0.625],[3.826,-0.625],[3.771,-0.62],[3.753,-0.606],[3.714,-0.611],[3.707,-0.575],[3.746,-0.572],[3.802,-0.585],[3.826,-0.59],[3.887,-0.549],[3.921,-0.6],[3.941,-0.614],[3.964,-0.599],[3.96,-0.611],[3.962,-0.609],[3.959,-0.622],[4.001,-0.87],
[3.741,-0.479],[3.767,-0.458],[3.783,-0.456],[3.794,-0.479],[3.796,-0.477],[3.792,-0.481],[3.816,-0.459],[3.818,-0.457],[3.814,-0.461],[3.845,-0.46],[3.885,-0.478],[3.886,-0.452],[3.896,-0.449],[3.92,-0.471],[3.943,-0.465],[3.959,-0.475],[3.961,-0.473],[3.957,-0.477],[3.963,-0.455],[4.007,-0.46],[4.001,-0.434],[3.998,-0.419],[3.71,-0.415],[3.725,-0.415],[3.743,-0.416],[3.745,-0.414],[3.741,-0.418],[3.775,-0.415],[3.816,-0.416],[3.862,-0.417],[3.726,-0.375],[3.727,-0.374],[3.725,-0.376],[3.759,-0.37],[3.793,-0.381],[3.801,-0.354],[3.813,-0.366],[3.823,-0.391],[3.816,-0.34],[3.828,-0.334],[3.835,-0.337],[3.862,-0.339],[3.885,-0.34],[3.847,-0.36],[3.843,-0.375],[3.845,-0.373],[3.841,-0.377],[3.86,-0.372],[3.877,-0.381],[3.882,-0.399],[3.884,-0.397],[3.899,-0.41],[3.901,-0.408],[3.897,-0.412],[3.921,-0.41],[3.923,-0.408],[3.933,-0.413],[3.973,-0.405],[3.94,-0.384],[3.921,-0.372],[3.923,-0.37],[3.928,-0.337],[3.93,-0.335],[3.926,-0.339],[3.945,-0.349],[3.969,-0.378],[3.971,-0.376],[3.967,-0.38],[3.964,-0.354],[3.977,-0.346],[3.998,-0.349],[4.013,-0.387],[4.015,-0.385],[4.011,-0.389],[4.013,-0.383],[4.013,-0.391],[3.998,-0.384],[4.03,-0.357],[4.052,-0.375],[4.054,-0.373],[4.05,-0.377],[4.074,-0.366],[4.076,-0.364],[4.035,-0.402],[4.037,-0.4],[4.003,-0.322],[4.005,-0.32],[4.001,-0.324],[4.018,-0.331],[3.986,-0.301],[3.977,-0.299],[3.979,-0.297],[3.962,-0.263],[3.964,-0.261],[3.984,-0.246],[3.994,-0.272],[4.006,-0.278],[3.95,-0.313],[3.938,-0.304],[3.94,-0.302],[3.896,-0.287],[3.886,-0.254],[3.881,-0.29],[3.881,-0.316],[3.85,-0.251],[3.837,-0.248],[3.818,-0.263],[3.83,-0.269],[3.816,-0.281],[3.802,-0.296],[3.847,-0.293],[3.849,-0.291],[3.845,-0.295],[3.869,-0.263],[3.864,-0.281],
[3.813,-0.039],[3.795,-0.044],[3.771,-0.051],[3.767,-0.075],[3.782,-0.069],[3.784,-0.067],[3.801,-0.072],[3.803,-0.07],[3.755,-0.098],[3.769,-0.101],[3.788,-0.106],[3.804,-0.108],[3.804,-0.126],[3.818,-0.131],[3.83,-0.134],[3.837,-0.094],[3.85,-0.081],[3.852,-0.079],[3.861,-0.092],[3.863,-0.09],[3.843,-0.045],[3.85,-0.028],[3.865,-0.048],[3.867,-0.046],[3.872,-0.06],[3.891,-0.075],[3.906,-0.06],[3.918,-0.051],[3.92,-0.049],[3.906,-0.087],[3.921,-0.089],[3.882,-0.104],[3.892,-0.107],[3.942,-0.045],[3.955,-0.031],[3.957,-0.029],[3.969,-0.042],[3.947,-0.078],[3.967,-0.078],[3.952,-0.098],[3.969,-0.104],[3.979,-0.104],[3.994,-0.101],[3.942,-0.131],[3.967,-0.131],[3.969,-0.129],[3.996,-0.031],[3.998,-0.029],[4.018,-0.028],[4.035,-0.031],[4.052,-0.034],[4.023,-0.054],[4.025,-0.052],[4.021,-0.056],[4.023,-0.05],[4.042,-0.066],[4.02,-0.075],[4.022,-0.073],[4.018,-0.077],[4.003,-0.072],[4.023,-0.101],[4.05,-0.092],[4.067,-0.06],[4.079,-0.051],[4.069,-0.086],[4.062,-0.101],[4.064,-0.099],[4.088,-0.098],[4.101,-0.045],[4.103,-0.043],[4.106,-0.069],[4.098,-0.081],[4.108,-0.11],[4.125,-0.125],[4.123,-0.089],[4.125,-0.087],[4.121,-0.091],[4.14,-0.057],[4.142,-0.055],[4.157,-0.057],[4.14,-0.087],[4.142,-0.085],[4.179,-0.066],[4.193,-0.054],[4.169,-0.087],[4.181,-0.098],[4.183,-0.096],[4.162,-0.11],[4.164,-0.108],[4.157,-0.134],[4.196,-0.125],[4.208,-0.128],[4.205,-0.092],[4.207,-0.09],[4.22,-0.101],[4.22,-0.057],[4.242,-0.057],[4.252,-0.045],[4.264,-0.066],[4.266,-0.064],[4.264,-0.028],[4.281,-0.028],[4.283,-0.026],[4.288,-0.078],[4.29,-0.076],[4.3,-0.045],[4.317,-0.057],[4.319,-0.055],[4.315,-0.095],[4.339,-0.095],[4.337,-0.063],[4.342,-0.028],[4.359,-0.028],[4.361,-0.101],[4.373,-0.075],[4.375,-0.073],[4.378,-0.045],[4.38,-0.043],[4.393,-0.034],[4.429,-0.069],[4.41,-0.095],[4.412,-0.093],[4.408,-0.097],[4.434,-0.045],[4.427,-0.126],[4.351,-0.054],
[3.772,-0.001],[3.845,-0.01],[3.879,-0.01],[3.881,-0.008],[3.918,-0.013],[3.884,-0.022],[3.957,-0.007],[3.959,-0.005],[4.071,-0.013],[4.113,-0.02],[4.157,-0.013],[4.191,-0.01],[4.227,-0.01],[4.242,-0.007],[4.315,-0.019],[4.376,-0.01],
];

const denseClusters: number[][] = [
[4.545,-0.058],[4.558,-0.062],[4.548,-0.088],[4.561,-0.094],[4.533,-0.07],[4.57,-0.08],[4.541,-0.105],[4.556,-0.115],[4.528,-0.092],[4.572,-0.047],[4.558,-0.022],[4.572,-0.028],[4.555,-0.046],[4.578,-0.012],[4.59,-0.034],
[4.45,-0.104],[4.466,-0.131],[4.447,-0.138],[4.471,-0.1],[4.455,-0.15],[4.478,-0.118],[4.44,-0.09],[4.444,-0.122],[4.597,-0.078],[4.615,-0.072],[4.6,-0.122],[4.622,-0.128],[4.59,-0.1],[4.628,-0.09],[4.582,-0.118],[4.61,-0.138],
[4.645,-0.102],[4.652,-0.128],[4.628,-0.14],[4.66,-0.11],[4.64,-0.087],[4.668,-0.125],[4.65,-0.15],[4.68,-0.13],[4.688,-0.16],[4.66,-0.168],[4.692,-0.137],[4.676,-0.176],[4.7,-0.165],[4.594,-0.18],[4.588,-0.155],[4.614,-0.175],[4.598,-0.142],[4.62,-0.15],[4.578,-0.17],
[4.715,-0.098],[4.73,-0.125],[4.71,-0.13],[4.736,-0.1],[4.742,-0.135],[4.705,-0.11],[4.775,-0.1],[4.79,-0.135],[4.778,-0.13],[4.765,-0.122],[4.8,-0.105],[4.758,-0.135],
[4.578,-0.215],[4.594,-0.212],[4.575,-0.24],[4.598,-0.235],[4.588,-0.25],[4.565,-0.225],[4.6,-0.255],[4.505,-0.195],[4.522,-0.19],[4.528,-0.225],[4.5,-0.235],[4.52,-0.258],[4.535,-0.27],[4.507,-0.28],[4.51,-0.29],[4.525,-0.31],[4.535,-0.32],[4.5,-0.31],
[4.56,-0.285],[4.575,-0.31],[4.578,-0.29],[4.555,-0.31],[4.585,-0.315],[4.57,-0.325],[4.605,-0.295],[4.625,-0.295],[4.6,-0.32],[4.625,-0.32],[4.61,-0.33],[4.64,-0.3],
[4.305,-0.14],[4.325,-0.145],[4.308,-0.172],[4.33,-0.17],[4.298,-0.155],[4.34,-0.15],[4.36,-0.175],[4.38,-0.205],[4.392,-0.172],[4.4,-0.2],[4.355,-0.2],[4.418,-0.18],[4.425,-0.195],[4.39,-0.13],[4.405,-0.12],[4.415,-0.15],[4.43,-0.14],[4.44,-0.165],
[4.225,-0.19],[4.24,-0.225],[4.215,-0.225],[4.255,-0.2],[4.23,-0.235],[4.205,-0.195],[4.26,-0.235],[4.2,-0.225],[4.165,-0.19],[4.18,-0.2],[4.17,-0.22],[4.155,-0.205],[4.19,-0.225],[4.14,-0.2],[4.185,-0.15],[4.2,-0.17],[4.215,-0.16],[4.17,-0.165],[4.225,-0.15],[4.145,-0.19],[4.16,-0.16],[4.13,-0.18],[4.105,-0.19],
[4.29,-0.33],[4.31,-0.325],[4.285,-0.355],[4.31,-0.355],[4.325,-0.33],[4.275,-0.33],[4.36,-0.33],[4.385,-0.345],[4.4,-0.335],[4.415,-0.34],[4.36,-0.35],[4.445,-0.33],[4.44,-0.35],[4.32,-0.285],[4.34,-0.28],[4.36,-0.29],[4.345,-0.315],[4.33,-0.305],[4.375,-0.305],[4.395,-0.3],[4.42,-0.3],[4.44,-0.29],
[4.26,-0.3],[4.28,-0.3],[4.29,-0.285],[4.25,-0.31],[4.235,-0.3],[4.18,-0.36],[4.21,-0.36],[4.2,-0.325],[4.22,-0.325],[4.24,-0.33],[4.17,-0.33],[4.15,-0.345],[4.13,-0.33],[4.11,-0.33],[4.08,-0.36],[4,-0.37],[4.02,-0.375],[4.03,-0.39],[4.005,-0.4],[4.105,-0.34],[4.115,-0.37],[4.14,-0.375],[4.16,-0.375],[4.1,-0.385],
[4.26,-0.42],[4.29,-0.42],[4.32,-0.42],[4.34,-0.43],[4.38,-0.42],[4.4,-0.42],[4.42,-0.41],[4.44,-0.42],[4.3,-0.44],[4.35,-0.44],[4.33,-0.46],[4.31,-0.45],[4.28,-0.44],[4.25,-0.41],[4.44,-0.46],[4.44,-0.4],[4.43,-0.37],
[4.3,-0.01],[4.33,-0.015],[4.36,-0.01],[4.39,-0.02],[4.41,-0.005],[4.44,-0.012],[4.47,-0.005],[4.5,-0.018],[4.53,-0.008],[4.56,-0.006],[4.6,-0.012],[4.64,-0.008],[4.67,-0.015],[4.71,-0.012],[4.75,-0.008],[4.79,-0.018],[4.84,-0.005],[4.88,-0.01],[4.3,0.01],[4.34,0.008],[4.38,0.012],[4.42,0.005],[4.45,0.01],[4.49,0.012],[4.53,0.005],[4.57,0.012],[4.62,0.005],[4.66,0.012],[4.69,0.006],[4.74,0.01],[4.77,0.005],[4.82,0.012],[4.87,0.005],[4.91,0.008],[4.95,0.005],[4.97,-0.01],[5,0.005],[5.04,0.008],
[4.5,-0.06],[4.53,-0.045],[4.6,-0.045],[4.62,-0.06],[4.68,-0.06],[4.72,-0.055],[4.74,-0.065],[4.8,-0.07],[4.83,-0.085],[4.86,-0.07],[4.9,-0.07],[4.92,-0.085],
];

const pointGroups = [highOutliers, leftUpper, leftMiddle, centerUpper, rightUpper, rightLower, centerLower, leftLower, denseClusters];

const countyPoints = pointGroups.flat().map(([logPopulation, index]) => [Math.round(10 ** logPopulation), index]);

const gridLineData = [
  ...xMajorGrid.map((v) => [v, 0, 0, 1]),
  ...xMinorGrid.map((v) => [v, 0, 0, 0]),
  ...yMajorGrid.map((v) => [10000, v, 1, 1]),
  ...yMinorGrid.map((v) => [10000, v, 1, 0]),
];

const FONT = '"Liberation Sans", Arial, sans-serif';

export default function App() {
  const ref = useRef<HTMLDivElement>(null);
  useEffect(() => {
    document.body.style.margin = "0";
    const chart = echarts.init(ref.current!, undefined, { renderer: "svg" });
    chart.setOption({
      animation: false,
      backgroundColor: "#ffffff",
      title: [
        { text: TITLE, left: 124, top: 13, textStyle: { fontFamily: FONT, fontSize: 66.7, fontWeight: "bold", color: "#000000" } },
        { text: SUBTITLE, left: 124, top: 97, textStyle: { fontFamily: FONT, fontSize: 50.2, fontWeight: "normal", color: "#666666" } },
        { text: CAPTION, right: 18, top: 2335, textStyle: { fontFamily: FONT, fontSize: 36.8, fontWeight: "normal", color: "#000000" } },
      ],
      grid: { left: 131, top: 179, width: 2846, height: 2032, containLabel: false, outerBoundsMode: "none" },
      xAxis: {
        type: "log",
        logBase: 10,
        min: 3494,
        max: 14588000,
        name: X_NAME,
        nameLocation: "middle",
        nameGap: 64,
        nameTextStyle: { fontFamily: FONT, fontSize: 46, color: "#000000" },
        axisLine: { show: false },
        axisTick: { show: false },
        splitLine: { show: false },
        minorTick: { show: false },
        minorSplitLine: { show: false },
        axisLabel: {
          customValues: xLabelValues,
          margin: 18,
          fontFamily: FONT,
          fontSize: 36,
          color: "#4d4d4d",
          formatter: (v: number) => Math.round(v).toLocaleString("en-US"),
        },
      },
      yAxis: {
        type: "value",
        min: -1.034,
        max: 2.557,
        name: Y_NAME,
        nameLocation: "middle",
        nameGap: 68,
        nameTextStyle: { fontFamily: FONT, fontSize: 46, color: "#000000" },
        axisLine: { show: false },
        axisTick: { show: false },
        splitLine: { show: false },
        axisLabel: {
          customValues: yLabelValues,
          margin: 23,
          fontFamily: FONT,
          fontSize: 36,
          color: "#4d4d4d",
          formatter: (v: number) => String(v),
        },
      },
      series: [
        {
          type: "custom",
          z: 1,
          silent: true,
          clip: false,
          data: gridLineData,
          encode: { x: 0, y: 1 },
          renderItem: (params: any, api: any) => {
            const cs = params.coordSys;
            const horizontal = api.value(2) === 1;
            const p = api.coord([api.value(0), api.value(1)]);
            const shape = horizontal
              ? { x1: cs.x, y1: p[1], x2: cs.x + cs.width, y2: p[1] }
              : { x1: p[0], y1: cs.y, x2: p[0], y2: cs.y + cs.height };
            return {
              type: "line",
              shape,
              style: { stroke: "#ebebeb", lineWidth: api.value(3) === 1 ? 4.2 : 2.2, fill: "none" },
            };
          },
        },
        {
          type: "scatter",
          z: 2,
          silent: true,
          progressive: 0,
          large: false,
          symbol: "circle",
          symbolSize: 16,
          data: countyPoints,
          itemStyle: { color: "rgba(153,153,153,0.65)", borderColor: "rgba(153,153,153,0.65)", borderWidth: 2, opacity: 1 },
        },
        {
          type: "custom",
          z: 3,
          silent: true,
          data: [[ribbonPopulation[0], ribbonUpper[0]]],
          encode: { x: 0, y: 1 },
          renderItem: (_params: any, api: any) => {
            const upper = ribbonPopulation.map((x, i) => api.coord([x, ribbonUpper[i]]));
            const lower = ribbonPopulation.map((x, i) => api.coord([x, ribbonLower[i]])).reverse();
            return {
              type: "polygon",
              shape: { points: [...upper, ...lower] },
              style: { fill: "rgba(153,153,153,0.2)", stroke: "none" },
            };
          },
        },
        {
          type: "line",
          z: 4,
          silent: true,
          showSymbol: false,
          data: trendPopulation.map((x, i) => [x, trendIndex[i]]),
          lineStyle: { color: "#a52a2a", width: 9, cap: "butt" },
        },
      ],
    });
    return () => chart.dispose();
  }, []);
  return <div ref={ref} style={{ width: 3000, height: 2400 }} />;
}
